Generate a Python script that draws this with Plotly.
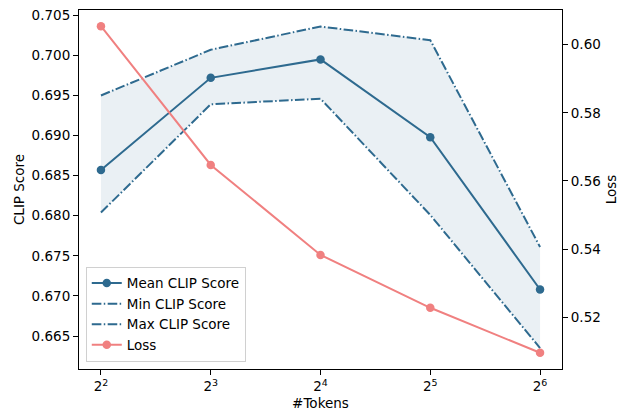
import numpy as np
import plotly.graph_objects as go

tokens = [4, 8, 16, 32, 64]
tick_text = ["2<sup>2</sup>", "2<sup>3</sup>", "2<sup>4</sup>", "2<sup>5</sup>", "2<sup>6</sup>"]
mean_clip = [0.6857, 0.6972, 0.6995, 0.6898, 0.6708]
min_clip = [0.6804, 0.6939, 0.6946, 0.6801, 0.6635]
max_clip = [0.6950, 0.7007, 0.7036, 0.7019, 0.6761]
loss = [0.6054, 0.5647, 0.5383, 0.5228, 0.5096]

blue = "#2e6a8f"
coral = "#f08080"
fill = "rgba(46,106,143,0.1)"
dashdot = "9.6px,2.4px,1.5px,2.4px"
font = dict(family="DejaVu Sans", size=13.5, color="black")

fig = go.Figure()
# shaded band between min and max
fig.add_trace(go.Scatter(x=tokens, y=max_clip, mode="lines", line=dict(width=0),
                         showlegend=False, hoverinfo="skip"))
fig.add_trace(go.Scatter(x=tokens, y=min_clip, mode="lines", line=dict(width=0),
                         fill="tonexty", fillcolor=fill, showlegend=False, hoverinfo="skip"))
fig.add_trace(go.Scatter(x=tokens, y=mean_clip, mode="lines+markers", name="Mean CLIP Score",
                         line=dict(color=blue, width=2), marker=dict(color=blue, size=8.5)))
fig.add_trace(go.Scatter(x=tokens, y=min_clip, mode="lines", name="Min CLIP Score",
                         line=dict(color=blue, width=2, dash=dashdot)))
fig.add_trace(go.Scatter(x=tokens, y=max_clip, mode="lines", name="Max CLIP Score",
                         line=dict(color=blue, width=2, dash=dashdot)))
fig.add_trace(go.Scatter(x=tokens, y=loss, mode="lines+markers", name="Loss", yaxis="y2",
                         line=dict(color=coral, width=2), marker=dict(color=coral, size=8.5)))

axis_common = dict(showgrid=False, zeroline=False, showline=True, linecolor="black",
                   linewidth=1.1, ticks="outside", ticklen=5, tickwidth=1.1,
                   tickcolor="black", tickfont=font, automargin=False)

fig.update_layout(
    width=627, height=411,
    margin=dict(l=79, r=65, t=10, b=42),
    plot_bgcolor="white", paper_bgcolor="white",
    font=font,
    xaxis=dict(type="log", range=[1.8 * np.log10(2), 6.2 * np.log10(2)],
               tickvals=tokens, ticktext=tick_text, mirror=True,
               title=dict(text="#Tokens", font=font, standoff=6), **axis_common),
    yaxis=dict(range=[0.66089, 0.70566], tickvals=[0.665, 0.670, 0.675, 0.680, 0.685, 0.690, 0.695, 0.700, 0.705],
               tickformat=".3f", title=dict(text="CLIP Score", font=font, standoff=3), **axis_common),
    yaxis2=dict(range=[0.50485, 0.61014], overlaying="y", side="right",
                tickvals=[0.52, 0.54, 0.56, 0.58, 0.60], tickformat=".2f",
                title=dict(text="Loss", font=font, standoff=6), **axis_common),
    legend=dict(x=0.014, y=0.02, xanchor="left", yanchor="bottom", traceorder="normal",
                bgcolor="rgba(255,255,255,0.8)", bordercolor="#d0d0d0", borderwidth=1,
                font=font, tracegroupgap=0, itemwidth=30),
)

fig.write_html("out.html", config={"displayModeBar": False},
               post_script="document.body.style.margin='0';")
